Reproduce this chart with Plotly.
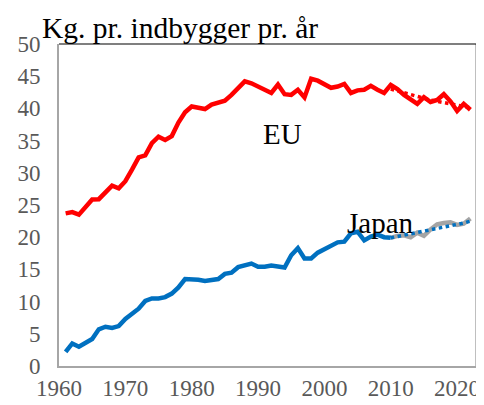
import plotly.graph_objects as go

years = list(range(1961, 2023))
eu = [23.7, 23.9, 23.5, 24.6, 25.85, 25.9, 26.9, 28.0, 27.6, 28.7,
      30.5, 32.4, 32.7, 34.6, 35.6, 35.1, 35.7, 37.8, 39.4, 40.3,
      40.1, 39.9, 40.6, 40.9, 41.2, 42.1, 43.1, 44.2, 43.9, 43.4,
      42.8, 42.4, 43.7, 42.2, 42.1, 42.9, 41.7, 44.6, 44.3, 43.7,
      43.2, 43.4, 43.8, 42.4, 42.8, 42.9, 43.5, 42.9, 42.4, 43.65,
      43.0, 42.1, 41.4, 40.7, 41.75, 41.0, 41.3, 42.2, 41.1, 39.6,
      40.7, 39.8]

japan_years = list(range(1961, 2011))
japan = [2.2, 3.5, 3.0, 3.7, 4.2, 5.7, 6.1, 5.9, 6.2, 7.3,
         8.2, 8.9, 10.1, 10.5, 10.5, 10.7, 11.25, 12.2, 13.5, 13.5,
         13.4, 13.2, 13.3, 13.5, 14.3, 14.5, 15.35, 15.7, 15.9, 15.4,
         15.4, 15.6, 15.4, 15.3, 17.2, 18.3, 16.7, 16.7, 17.6, 18.1,
         18.6, 19.2, 19.3, 20.6, 20.85, 19.5, 20.1, 20.4, 20.0, 19.9]

recent_years = list(range(2010, 2023))
japan_recent = [19.9, 20.2, 20.3, 20.0, 20.7, 20.2, 21.2, 22.0, 22.2, 22.3, 21.9, 22.1, 22.9]
japan_trend = [19.9, 20.1, 20.3, 20.5, 20.7, 20.9, 21.1, 21.3, 21.5, 21.8, 22.0, 22.2, 22.5]
eu_trend = [43.0, 42.7, 42.4, 42.1, 41.9, 41.6, 41.3, 41.1, 40.9, 40.7, 40.5, 40.3, 40.1]

y_ticks = [0, 5, 10, 15, 20, 25, 30, 35, 40, 45, 50]
x_ticks = [1960, 1970, 1980, 1990, 2000, 2010, 2020]

RED = "#FF0000"
BLUE = "#0070C0"
GRAY = "#A5A5A5"
FONT = "Liberation Serif"

fig = go.Figure()
fig.add_trace(go.Scatter(x=years, y=eu, mode="lines", line=dict(color=RED, width=4.5)))
fig.add_trace(go.Scatter(x=recent_years, y=eu_trend, mode="lines",
                         line=dict(color=RED, width=3.5, dash="dot")))
fig.add_trace(go.Scatter(x=recent_years, y=japan_recent, mode="lines",
                         line=dict(color=GRAY, width=4.5)))
fig.add_trace(go.Scatter(x=japan_years, y=japan, mode="lines", line=dict(color=BLUE, width=4.5)))
fig.add_trace(go.Scatter(x=recent_years, y=japan_trend, mode="lines",
                         line=dict(color=BLUE, width=3.5, dash="dot")))

fig.update_layout(
    width=476, height=397,
    margin=dict(l=51, r=4, t=36, b=38),
    paper_bgcolor="white", plot_bgcolor="white",
    showlegend=False,
    font=dict(family=FONT, color="#595959", size=23),
    xaxis=dict(range=[1960, 2023], tickvals=x_ticks, showgrid=False, zeroline=False,
               showline=True, linecolor="#A6A6A6", linewidth=2, ticks="",
               tickfont=dict(size=23, color="#595959", family=FONT)),
    yaxis=dict(range=[0, 50], tickvals=y_ticks, showgrid=False, zeroline=False,
               showline=True, linecolor="#A6A6A6", linewidth=2, ticks="",
               ticklabelstandoff=12,
               tickfont=dict(size=23, color="#595959", family=FONT)),
    shapes=[
        dict(type="line", xref="paper", yref="paper", x0=0, x1=1, y0=1, y1=1,
             line=dict(color="black", width=1.2)),
        dict(type="line", xref="paper", yref="paper", x0=1, x1=1, y0=0, y1=1,
             line=dict(color="black", width=2.5)),
    ],
    annotations=[
        dict(text="Kg. pr. indbygger pr. år", xref="paper", yref="paper",
             x=-0.045, y=1.05, xanchor="left", yanchor="middle", showarrow=False,
             font=dict(family=FONT, size=29.5, color="black")),
        dict(text="EU", x=1993.7, y=36.0, showarrow=False,
             font=dict(family=FONT, size=29, color="black")),
        dict(text="Japan", x=2008.5, y=22.2, showarrow=False,
             font=dict(family=FONT, size=29, color="black")),
    ],
)

fig.write_html("out.html")
